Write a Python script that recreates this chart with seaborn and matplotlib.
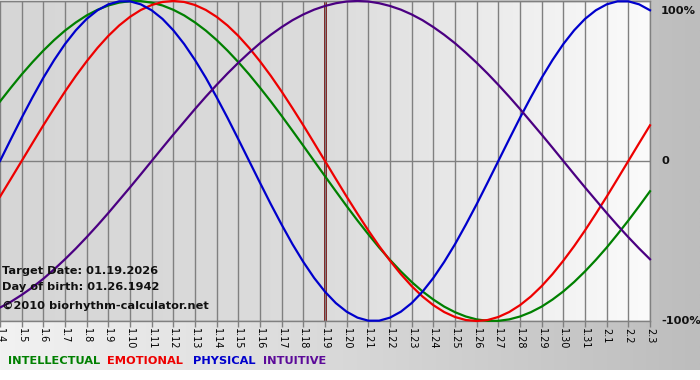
import numpy as np
import pandas as pd
import matplotlib
matplotlib.use("Agg")
import matplotlib.pyplot as plt
from matplotlib.colors import LinearSegmentedColormap
import seaborn as sns

day_labels = ["1.4", "1.5", "1.6", "1.7", "1.8", "1.9", "1.10", "1.11", "1.12", "1.13",
              "1.14", "1.15", "1.16", "1.17", "1.18", "1.19", "1.20", "1.21", "1.22", "1.23",
              "1.24", "1.25", "1.26", "1.27", "1.28", "1.29", "1.30", "1.31", "2.1", "2.2", "2.3"]

sample_step = 0.5  # days between readings

physical = [0.000, 0.136, 0.270, 0.398, 0.520, 0.631, 0.731, 0.817, 0.888, 0.942, 0.979, 0.998,
            0.998, 0.979, 0.942, 0.888, 0.817, 0.731, 0.631, 0.520, 0.398, 0.270, 0.136, 0.000,
            -0.136, -0.270, -0.398, -0.520, -0.631, -0.731, -0.817, -0.888, -0.942, -0.979, -0.998,
            -0.998, -0.979, -0.942, -0.888, -0.817, -0.731, -0.631, -0.520, -0.398, -0.270, -0.136,
            0.000, 0.136, 0.270, 0.398, 0.520, 0.631, 0.731, 0.817, 0.888, 0.942, 0.979, 0.998,
            0.998, 0.979, 0.942]

emotional = [-0.223, -0.112, 0.000, 0.112, 0.223, 0.330, 0.434, 0.532, 0.623, 0.707, 0.782,
             0.847, 0.901, 0.944, 0.975, 0.994, 1.000, 0.994, 0.975, 0.944, 0.901, 0.847,
             0.782, 0.707, 0.623, 0.532, 0.434, 0.330, 0.223, 0.112, 0.000,
             -0.112, -0.223, -0.330, -0.434, -0.532, -0.623, -0.707, -0.782, -0.847, -0.901,
             -0.944, -0.975, -0.994, -1.000, -0.994, -0.975, -0.944, -0.901, -0.847, -0.782,
             -0.707, -0.623, -0.532, -0.434, -0.330, -0.223, -0.112, 0.000,
             0.112, 0.223]

intellectual = [0.372, 0.458, 0.541, 0.618, 0.690, 0.756, 0.815, 0.866, 0.910, 0.945,
                0.972, 0.990, 0.999, 0.999, 0.990, 0.972, 0.945, 0.910, 0.866, 0.815,
                0.756, 0.690, 0.618, 0.541, 0.458, 0.372, 0.282, 0.189, 0.095, 0.000,
                -0.095, -0.189, -0.282, -0.372, -0.458, -0.541, -0.618, -0.690, -0.756, -0.815,
                -0.866, -0.910, -0.945, -0.972, -0.990, -0.999, -0.999, -0.990, -0.972, -0.945,
                -0.910, -0.866, -0.815, -0.756, -0.690, -0.618, -0.541, -0.458, -0.372, -0.282,
                -0.189]

intuitive = [-0.916, -0.880, -0.837, -0.789, -0.736, -0.677, -0.614, -0.547, -0.476, -0.402,
             -0.325, -0.245, -0.165, -0.083, 0.000, 0.083, 0.165, 0.245, 0.325, 0.402,
             0.476, 0.547, 0.614, 0.677, 0.736, 0.789, 0.837, 0.880, 0.916, 0.946,
             0.969, 0.986, 0.997, 1.000, 0.997, 0.986, 0.969, 0.946, 0.916, 0.880,
             0.837, 0.789, 0.736, 0.677, 0.614, 0.547, 0.476, 0.402, 0.325, 0.245,
             0.165, 0.083, 0.000, -0.083, -0.165, -0.245, -0.325, -0.402, -0.476, -0.547,
             -0.614]

target_label = "1.19"
info_lines = ["Target Date: 01.19.2026", "Day of birth: 01.26.1942",
              "\u00a92010 biorhythm-calculator.net"]
series_names = ["INTELLECTUAL", "EMOTIONAL", "PHYSICAL", "INTUITIVE"]
series_colors = ["#008000", "#ee0000", "#0000cc", "#4b0082"]
legend_colors = ["#008000", "#ee0000", "#0000cc", "#5c0a99"]
y_tick_values = [1, 0, -1]
y_tick_labels = ["100%", "0", "-100%"]

# ---- build long table ----
def frame(vals, name):
    return pd.DataFrame({"day": np.arange(len(vals)) * sample_step, "value": vals, "series": name})

df = pd.concat([frame(intellectual, "INTELLECTUAL"), frame(emotional, "EMOTIONAL"),
                frame(physical, "PHYSICAL"), frame(intuitive, "INTUITIVE")])

W, H = 700, 380
fig = plt.figure(figsize=(W / 100, H / 100), dpi=100)
fig.patch.set_facecolor("white")

# figure background gradient (light left -> gray right)
bg = fig.add_axes([0, 10 / H, 1, 370 / H], zorder=-5)
bg_cmap = LinearSegmentedColormap.from_list("bg", ["#f2f2f2", "#bdbdbd"])
bg.imshow(np.linspace(0, 1, 256)[None, :], aspect="auto", cmap=bg_cmap,
          extent=[0, 1, 0, 1], interpolation="bilinear")
bg.set_axis_off()

# plot area
ax = fig.add_axes([0, (H - 321) / H, 650 / W, 320 / H])
ax.set_facecolor("none")
pa_cmap = LinearSegmentedColormap.from_list("pa", ["#d6d6d6", "#dcdcdc", "#fbfbfb"])
n = len(day_labels) - 1
ax.imshow(np.linspace(0, 1, 256)[None, :], aspect="auto", cmap=pa_cmap,
          extent=[0, n, -1, 1], interpolation="bilinear", zorder=0)

sns.lineplot(data=df, x="day", y="value", hue="series", hue_order=series_names,
             palette=dict(zip(series_names, series_colors)), linewidth=1.6,
             legend=False, ax=ax, zorder=3, clip_on=False)

ax.set_xlim(0, n)
ax.set_ylim(-1, 1)
ax.set_xlabel("")
ax.set_ylabel("")

# grid
ax.set_xticks(range(len(day_labels)))
ax.set_xticklabels(day_labels, rotation=270, fontsize=7)
ax.set_yticks(y_tick_values)
ax.set_yticklabels([])
ax.tick_params(axis="y", length=0)
ax.tick_params(axis="x", length=4, width=1, color="#808080", pad=1)
for lbl in ax.get_xticklabels():
    lbl.set_va("top")
    lbl.set_ha("center")
ax.grid(True, color="#808080", linewidth=1)
ax.set_axisbelow(False)
for gl in ax.get_xgridlines() + ax.get_ygridlines():
    gl.set_zorder(1)

for side in ["top", "bottom", "right"]:
    ax.spines[side].set_color("#808080")
    ax.spines[side].set_linewidth(1)
ax.spines["left"].set_visible(False)

# target date marker
ax.axvline(day_labels.index(target_label), color="#7a0000", linewidth=2, zorder=2)

# right-side labels
for val, txt in zip(y_tick_values, y_tick_labels):
    dy = -7 if val == 1 else 0
    ax.annotate(txt, xy=(1, val), xycoords=("axes fraction", "data"),
                xytext=(8, dy), textcoords="offset points", va="center", ha="left",
                fontsize=8.2, fontweight="bold", color="#111111", annotation_clip=False)

# info text inside plot
info_y = [271, 287, 306]
for t, yy in zip(info_lines, info_y):
    fig.text(2 / W, 1 - yy / H, t, fontsize=8.2, fontweight="bold", color="#111111",
             va="center", ha="left")

# legend at bottom
leg_x = [8, 107, 193, 263]
for name, col, xx in zip(series_names, legend_colors, leg_x):
    fig.text(xx / W, 1 - 361 / H, name, fontsize=8.2, fontweight="bold", color=col,
             va="center", ha="left")

fig.savefig("out.png", dpi=100)
